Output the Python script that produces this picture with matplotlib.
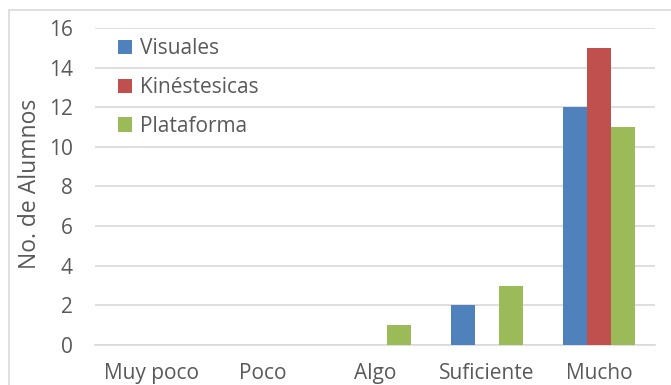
import matplotlib.pyplot as plt
import numpy as np
from matplotlib.patches import Rectangle

categories = ['Muy poco', 'Poco', 'Algo', 'Suficiente', 'Mucho']
visuales = [0, 0, 0, 2, 12]
kinestesicas = [0, 0, 0, 0, 15]
plataforma = [0, 0, 1, 3, 11]
series_names = ['Visuales', 'Kinéstesicas', 'Plataforma']
colors = ['#4F81BD', '#C0504D', '#9BBB59']

plt.rcParams['font.family'] = ['Open Sans', 'DejaVu Sans']
text_color = '#595959'

fig = plt.figure(figsize=(6.71, 3.85), dpi=100)
ax = fig.add_axes([95 / 671, 1 - 345 / 385, 560 / 671, 317 / 385])

x = np.arange(len(categories))
w = 0.215
for i, (vals, name, c) in enumerate(zip([visuales, kinestesicas, plataforma], series_names, colors)):
    ax.bar(x + (i - 1) * w, vals, width=w, color=c, label=name, zorder=3)

ax.set_xlim(-0.5, 4.5)
ax.set_ylim(0, 16)
ax.set_yticks(range(0, 17, 2))
ax.set_xticks(x)
ax.set_xticklabels(categories)
ax.yaxis.grid(True, color='#D9D9D9', linewidth=1.2, zorder=0)
for s in ['top', 'right', 'left']:
    ax.spines[s].set_visible(False)
ax.spines['bottom'].set_color('#D9D9D9')
ax.spines['bottom'].set_linewidth(1.2)
ax.tick_params(axis='both', length=0, labelsize=15, colors=text_color)
ax.tick_params(axis='x', pad=13)
ax.tick_params(axis='y', pad=16)
ax.set_ylabel('No. de Alumnos', fontsize=16.5, color=text_color)
ax.yaxis.set_label_coords(-0.094, 0.508)

leg = ax.legend(loc='upper left', frameon=False, fontsize=15, labelspacing=0.85,
                handlelength=0.7, handleheight=0.7, handletextpad=0.35,
                bbox_to_anchor=(0.022, 1.0), borderaxespad=0.1)
for t in leg.get_texts():
    t.set_color(text_color)

# chart outer border
fig.patches.append(Rectangle((9 / 671, -0.1), 1.2, 1 - 10 / 385 + 0.1,
                             transform=fig.transFigure, fill=False,
                             edgecolor='#D9D9D9', linewidth=1.2))

fig.savefig('out.png', dpi=100)
